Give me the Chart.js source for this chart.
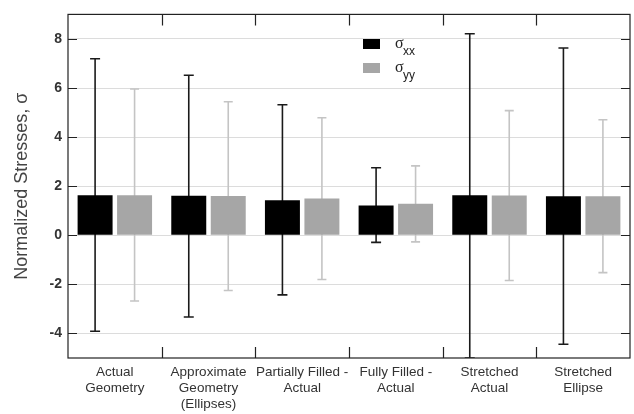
<!DOCTYPE html>
<html>
<head>
<meta charset="utf-8">
<script src="https://cdn.jsdelivr.net/npm/chart.js@4.4.1/dist/chart.umd.min.js"></script>
<style>
  html, body { margin: 0; padding: 0; background: #fff; }
  #wrap { width: 634px; height: 414px; }
</style>
</head>
<body>
<div id="wrap"><canvas id="stressChart"></canvas></div>
<script>
const categories = [
  ['Actual', 'Geometry'],
  ['Approximate', 'Geometry', '(Ellipses)'],
  ['Partially Filled -', 'Actual'],
  ['Fully Filled -', 'Actual'],
  ['Stretched', 'Actual'],
  ['Stretched', 'Ellipse']
];
const sxxMean = [1.63, 1.61, 1.43, 1.21, 1.63, 1.59];
const sxxHigh = [7.19, 6.52, 5.32, 2.75, 8.21, 7.63];
const sxxLow = [-3.91, -3.33, -2.43, -0.29, -5.0, -4.44];
const syyMean = [1.63, 1.60, 1.50, 1.28, 1.62, 1.59];
const syyHigh = [5.96, 5.44, 4.79, 2.83, 5.08, 4.71];
const syyLow = [-2.68, -2.25, -1.80, -0.27, -1.84, -1.52];
const yTicks = [-4, -2, 0, 2, 4, 6, 8];

const errorRanges = [
  { high: sxxHigh, low: sxxLow, color: '#1a1a1a', cap: 5 },
  { high: syyHigh, low: syyLow, color: '#c4c4c4', cap: 4.5 }
];

const errorBars = {
  id: 'errorBars',
  beforeDatasetsDraw(chart) {
    const ctx = chart.ctx;
    const y = chart.scales.y;
    const area = chart.chartArea;
    ctx.save();
    ctx.beginPath();
    ctx.rect(area.left, area.top, area.right - area.left, area.bottom - area.top);
    ctx.clip();
    errorRanges.forEach((er, i) => {
      const meta = chart.getDatasetMeta(i);
      ctx.strokeStyle = er.color;
      ctx.lineWidth = 1.6;
      meta.data.forEach((bar, j) => {
        const yh = y.getPixelForValue(er.high[j]);
        const yl = y.getPixelForValue(er.low[j]);
        ctx.beginPath();
        ctx.moveTo(bar.x, yh);
        ctx.lineTo(bar.x, yl);
        ctx.moveTo(bar.x - er.cap, yh);
        ctx.lineTo(bar.x + er.cap, yh);
        ctx.moveTo(bar.x - er.cap, yl);
        ctx.lineTo(bar.x + er.cap, yl);
        ctx.stroke();
      });
    });
    ctx.restore();
  }
};

const frameAndLegend = {
  id: 'frameAndLegend',
  afterDraw(chart) {
    const ctx = chart.ctx;
    const a = chart.chartArea;
    const y = chart.scales.y;
    const x = chart.scales.x;
    ctx.save();
    ctx.strokeStyle = '#222';
    ctx.lineWidth = 1.2;
    ctx.strokeRect(a.left, a.top, a.right - a.left, a.bottom - a.top);
    ctx.beginPath();
    yTicks.forEach(v => {
      const py = Math.round(y.getPixelForValue(v)) + 0.5;
      ctx.moveTo(a.left, py);
      ctx.lineTo(a.left + 9, py);
      ctx.moveTo(a.right, py);
      ctx.lineTo(a.right - 9, py);
    });
    for (let k = 1; k < categories.length; k++) {
      const px = Math.round((x.getPixelForValue(k - 1) + x.getPixelForValue(k)) / 2) + 0.5;
      ctx.moveTo(px, a.top);
      ctx.lineTo(px, a.top + 11);
      ctx.moveTo(px, a.bottom);
      ctx.lineTo(px, a.bottom - 11);
    }
    ctx.stroke();

    // legend
    const items = [
      { color: '#000', sub: 'xx', top: 39 },
      { color: '#a6a6a6', sub: 'yy', top: 63 }
    ];
    items.forEach(it => {
      ctx.fillStyle = it.color;
      ctx.fillRect(363, it.top, 17, 10);
      ctx.fillStyle = '#222';
      ctx.textBaseline = 'middle';
      ctx.textAlign = 'left';
      ctx.font = '16px "Liberation Serif", serif';
      ctx.fillText('σ', 395, it.top + 5);
      ctx.font = '12px "Liberation Sans", Arial, sans-serif';
      ctx.fillText(it.sub, 403, it.top + 13);
    });
    ctx.restore();
  }
};

new Chart(document.getElementById('stressChart'), {
  type: 'bar',
  data: {
    labels: categories,
    datasets: [
      { label: 'σxx', data: sxxMean, backgroundColor: '#000000' },
      { label: 'σyy', data: syyMean, backgroundColor: '#a6a6a6' }
    ]
  },
  options: {
    responsive: true,
    maintainAspectRatio: false,
    animation: false,
    categoryPercentage: 0.843,
    barPercentage: 0.886,
    layout: { padding: { top: 7, right: 4, left: 0, bottom: 0 } },
    plugins: {
      legend: { display: false },
      tooltip: { enabled: false }
    },
    scales: {
      x: {
        grid: { display: false, drawTicks: false },
        border: { display: false },
        ticks: {
          color: '#333',
          padding: 7,
          maxRotation: 0,
          autoSkip: false,
          font: { family: '"Liberation Sans", Arial, sans-serif', size: 13.5, lineHeight: 1.15 }
        },
        afterFit(scale) { scale.height = 56; }
      },
      y: {
        min: -5,
        max: 9,
        afterBuildTicks(scale) { scale.ticks = yTicks.map(v => ({ value: v })); },
        grid: { color: '#dcdcdc', lineWidth: 1, drawTicks: false },
        border: { display: false },
        ticks: {
          color: '#333',
          padding: 6,
          font: { family: '"Liberation Sans", Arial, sans-serif', size: 14, weight: 'bold' }
        },
        title: {
          display: true,
          text: 'Normalized Stresses, σ',
          color: '#444',
          padding: { top: 11, bottom: 0 },
          font: { family: '"Liberation Sans", Arial, sans-serif', size: 18 }
        },
        afterFit(scale) { scale.width = 68; }
      }
    }
  },
  plugins: [errorBars, frameAndLegend]
});
</script>
</body>
</html>
